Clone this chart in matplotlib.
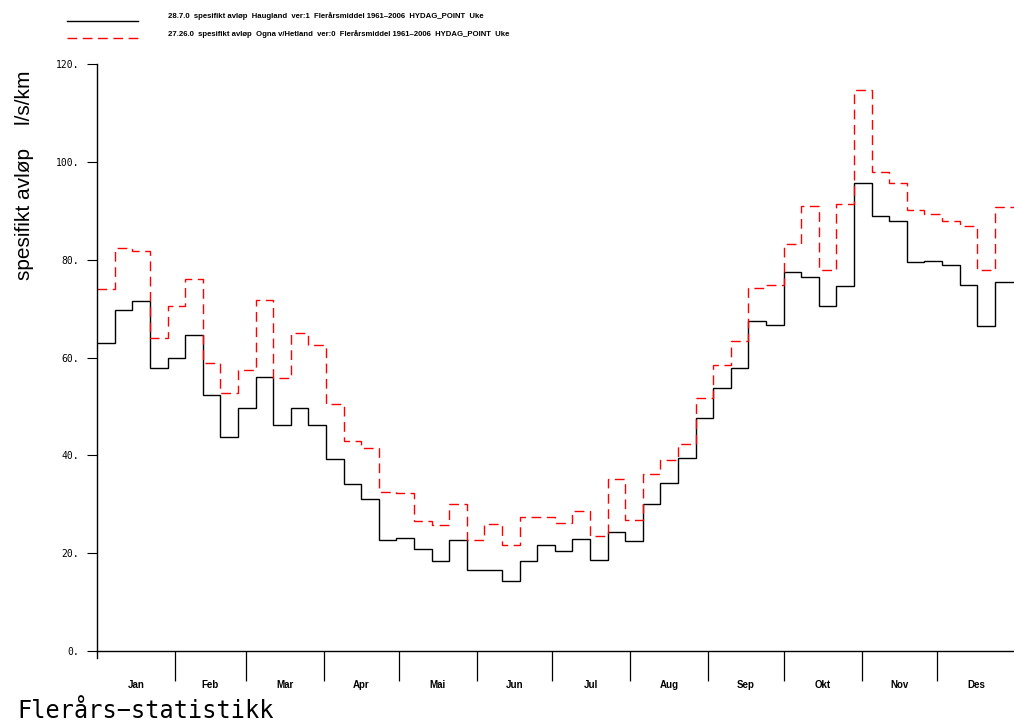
import numpy as np
import matplotlib
matplotlib.use("Agg")
from matplotlib import pyplot as plt
from matplotlib.lines import Line2D

# weekly mean specific runoff (l/s/km2), week 1..52
haugland = [63.0, 69.7, 71.5, 57.9, 59.9, 64.7, 52.3, 43.7, 49.7, 56.1,
            46.1, 49.6, 46.3, 39.2, 34.1, 31.1, 22.7, 23.0, 20.9, 18.5,
            22.6, 16.5, 16.6, 14.4, 18.5, 21.6, 20.4, 22.9, 18.7, 24.3,
            22.5, 30.0, 34.4, 39.4, 47.6, 53.8, 57.8, 67.4, 66.6, 77.5,
            76.5, 70.6, 74.6, 95.6, 88.9, 87.9, 79.5, 79.8, 79.0, 74.8,
            66.4, 75.5]
ogna = [74.1, 82.4, 81.7, 63.9, 70.6, 76.1, 58.9, 52.7, 57.4, 71.8,
        55.9, 65.0, 62.6, 50.4, 43.0, 41.5, 32.6, 32.2, 26.6, 25.8,
        30.0, 22.7, 25.9, 21.7, 27.4, 27.4, 26.1, 28.6, 23.5, 35.1,
        26.7, 36.1, 39.0, 42.3, 51.8, 58.5, 63.4, 74.3, 74.8, 83.2,
        91.0, 77.9, 91.4, 114.6, 98.0, 95.7, 90.2, 89.4, 88.0, 86.9,
        77.9, 90.7]

months = ["Jan", "Feb", "Mar", "Apr", "Mai", "Jun",
          "Jul", "Aug", "Sep", "Okt", "Nov", "Des"]
month_days = [31, 28, 31, 30, 31, 30, 31, 31, 30, 31, 30, 31]

label_1 = "28.7.0  spesifikt avløp  Haugland  ver:1  Flerårsmiddel 1961\u20132006  HYDAG_POINT  Uke"
label_2 = "27.26.0  spesifikt avløp  Ogna v/Hetland  ver:0  Flerårsmiddel 1961\u20132006  HYDAG_POINT  Uke"

narrow = ["Liberation Sans Narrow", "Liberation Sans"]

fig = plt.figure(figsize=(10.14, 7.22), dpi=100)
W, H = 1014, 722
ax = fig.add_axes([97.3 / W, 71 / H, (1015 - 97.3) / W, 587 / H])

edges = np.append(np.arange(len(haugland)) * 7, 365)
ax.stairs(haugland, edges, baseline=None, color="black", lw=1.0)
ax.stairs(ogna, edges, baseline=None, color="red", lw=1.0,
          linestyle=(0, (7, 4)))

ax.set_xlim(0, 365)
ax.set_ylim(0, 120)
for s in ["top", "right"]:
    ax.spines[s].set_visible(False)
ax.spines["left"].set_linewidth(1.0)
ax.spines["bottom"].set_linewidth(1.0)
# left axis runs a bit below zero
ax.plot([0, 0], [0, -0.012], transform=ax.transAxes, color="black",
        lw=1.0, clip_on=False)

yt = np.arange(0, 121, 20)
ax.set_yticks(yt)
ax.set_yticklabels([f"{v}." for v in yt], family="DejaVu Sans Mono",
                   fontsize=7)
ax.tick_params(axis="y", length=7, width=0.8, pad=6)

bounds = np.cumsum(month_days)
ax.set_xticks(bounds[:-1])
ax.set_xticklabels([])
ax.tick_params(axis="x", which="major", length=21.5, width=0.9)
mids = bounds - np.array(month_days) / 2
ax.set_xticks(mids, minor=True)
ax.set_xticklabels(months, minor=True, family=narrow, fontweight="bold",
                   fontsize=7)
ax.tick_params(axis="x", which="minor", length=0, pad=21)

fig.text(25 / W, 1 - 175 / H, "spesifikt avløp    l/s/km", rotation=90,
         ha="center", va="center", family="Liberation Sans", fontsize=15)

# legend at the top
fig.add_artist(Line2D([67 / W, 138 / W], [1 - 21 / H] * 2, color="black",
                      lw=1.0))
fig.add_artist(Line2D([67 / W, 138 / W], [1 - 38 / H] * 2, color="red",
                      lw=1.0, linestyle=(0, (7, 4))))
fig.text(168 / W, 1 - 16 / H, label_1, ha="left", va="center",
         family=narrow, fontweight="bold", fontsize=5.6)
fig.text(168 / W, 1 - 34 / H, label_2, ha="left", va="center",
         family=narrow, fontweight="bold", fontsize=5.6)

fig.text(17 / W, 1 - 711 / H, "Flerårs\u2212statistikk", ha="left",
         va="center", family="DejaVu Sans Mono", fontsize=17)

fig.savefig("out.png", dpi=100)
